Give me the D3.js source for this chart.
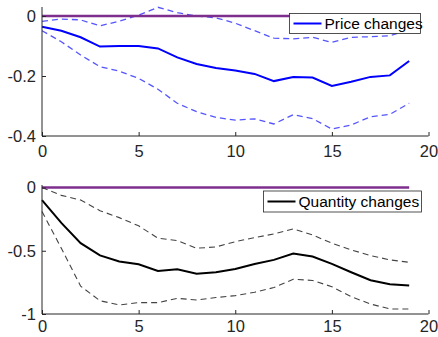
<!DOCTYPE html>
<html><head><meta charset="utf-8">
<script src="https://cdn.jsdelivr.net/npm/d3@7"></script>
<style>body{margin:0;background:#fff}svg{display:block}text{font-family:"Liberation Sans",Arial,sans-serif}</style>
</head><body>
<script>
const steps = d3.range(0, 20);
const priceMid = [-0.036,-0.049,-0.071,-0.102,-0.100,-0.100,-0.108,-0.138,-0.160,-0.173,-0.182,-0.193,-0.217,-0.203,-0.205,-0.233,-0.219,-0.203,-0.198,-0.150];
const priceUp  = [-0.018,-0.010,-0.013,-0.033,-0.017,0.003,0.029,0.011,0.000,-0.006,-0.024,-0.049,-0.074,-0.076,-0.071,-0.088,-0.071,-0.069,-0.066,-0.045];
const priceLo  = [-0.049,-0.086,-0.130,-0.169,-0.184,-0.208,-0.244,-0.291,-0.319,-0.338,-0.347,-0.343,-0.360,-0.329,-0.342,-0.377,-0.363,-0.336,-0.328,-0.291];
const qtyMid = [-0.100,-0.280,-0.440,-0.537,-0.585,-0.607,-0.660,-0.646,-0.681,-0.670,-0.644,-0.604,-0.572,-0.522,-0.546,-0.604,-0.670,-0.733,-0.765,-0.775];
const qtyUp  = [0.000,-0.062,-0.099,-0.183,-0.238,-0.303,-0.401,-0.420,-0.480,-0.470,-0.428,-0.396,-0.367,-0.327,-0.375,-0.440,-0.493,-0.538,-0.572,-0.591];
const qtyLo  = [-0.190,-0.480,-0.780,-0.895,-0.929,-0.910,-0.910,-0.876,-0.889,-0.870,-0.855,-0.828,-0.791,-0.725,-0.735,-0.784,-0.863,-0.921,-0.960,-0.960];
const zeroLine = steps.map(() => 0);
const xTicks = [0, 5, 10, 15, 20];
const priceTicks = [0, -0.2, -0.4];
const priceTickLabels = ["0", "-0.2", "-0.4"];
const qtyTicks = [0, -0.5, -1];
const qtyTickLabels = ["0", "-0.5", "-1"];
const legendLabels = ["Price changes", "Quantity changes"];

const W = 438, H = 337;
const svg = d3.select("body").append("svg").attr("width", W).attr("height", H);
const axisColor = "#262626";
const x = d3.scaleLinear().domain([0, 20]).range([42, 428.5]);

function panel(cfg) {
  const y = d3.scaleLinear().domain(cfg.domain).range(cfg.range);
  const g = svg.append("g");
  const line = d3.line().x((d, i) => x(steps[i])).y(d => y(d));
  g.append("path").datum(cfg.up).attr("d", line).attr("fill", "none")
    .attr("stroke", cfg.dashColor).attr("stroke-width", cfg.dashWidth).attr("stroke-dasharray", "6,4");
  g.append("path").datum(cfg.lo).attr("d", line).attr("fill", "none")
    .attr("stroke", cfg.dashColor).attr("stroke-width", cfg.dashWidth).attr("stroke-dasharray", "6,4");
  g.append("path").datum(cfg.mid).attr("d", line).attr("fill", "none")
    .attr("stroke", cfg.color).attr("stroke-width", 2);
  g.append("path").datum(zeroLine).attr("d", line).attr("fill", "none")
    .attr("stroke", "#7E2F8E").attr("stroke-width", 2.6);
  const xa = g.append("g").attr("transform", `translate(0,${cfg.range[0]})`)
    .call(d3.axisBottom(x).tickValues(xTicks).tickSize(-4).tickPadding(cfg.xPad).tickFormat(d3.format("d")));
  const ya = g.append("g").attr("transform", `translate(42,0)`)
    .call(d3.axisLeft(y).tickValues(cfg.ticks).tickSize(-4).tickPadding(6)
      .tickFormat((d, i) => cfg.tickLabels[i]));
  [xa, ya].forEach(a => {
    a.select(".domain").attr("stroke", axisColor).attr("stroke-width", 1);
    a.selectAll(".tick line").attr("stroke", axisColor);
    a.selectAll(".tick text").attr("fill", axisColor).attr("font-size", 16.5)
      .style("font-family", '"Liberation Sans",Arial,sans-serif');
  });
  xa.select(".domain").attr("d", `M42,0H428.5`);
  ya.select(".domain").attr("d", `M0,${cfg.range[1]}V${cfg.range[0]}`);
  const L = cfg.legend;
  const lg = g.append("g");
  lg.append("rect").attr("x", L.x).attr("y", L.y).attr("width", L.w).attr("height", L.h)
    .attr("fill", "#fff").attr("stroke", axisColor).attr("stroke-width", 0.8);
  lg.append("line").attr("x1", L.x + 4).attr("x2", L.x + 32).attr("y1", L.y + L.h / 2).attr("y2", L.y + L.h / 2)
    .attr("stroke", cfg.color).attr("stroke-width", 2);
  lg.append("text").attr("x", L.x + 35).attr("y", L.y + L.h / 2 + 5.5).attr("font-size", 15.5)
    .attr("fill", "#000").text(L.label);
}

panel({
  domain: [-0.4, 0.03], range: [136, 7], up: priceUp, lo: priceLo, mid: priceMid,
  color: "#0000FF", dashColor: "#5555FF", dashWidth: 1.3, xPad: 9,
  ticks: priceTicks, tickLabels: priceTickLabels,
  legend: {x: 289.5, y: 13.5, w: 131, h: 20, label: legendLabels[0]}
});
panel({
  domain: [-1, 0.02], range: [314, 185], up: qtyUp, lo: qtyLo, mid: qtyMid,
  color: "#000000", dashColor: "#444444", dashWidth: 1.1, xPad: 6.5,
  ticks: qtyTicks, tickLabels: qtyTickLabels,
  legend: {x: 263.5, y: 191, w: 158, h: 21, label: legendLabels[1]}
});
</script>
</body></html>
